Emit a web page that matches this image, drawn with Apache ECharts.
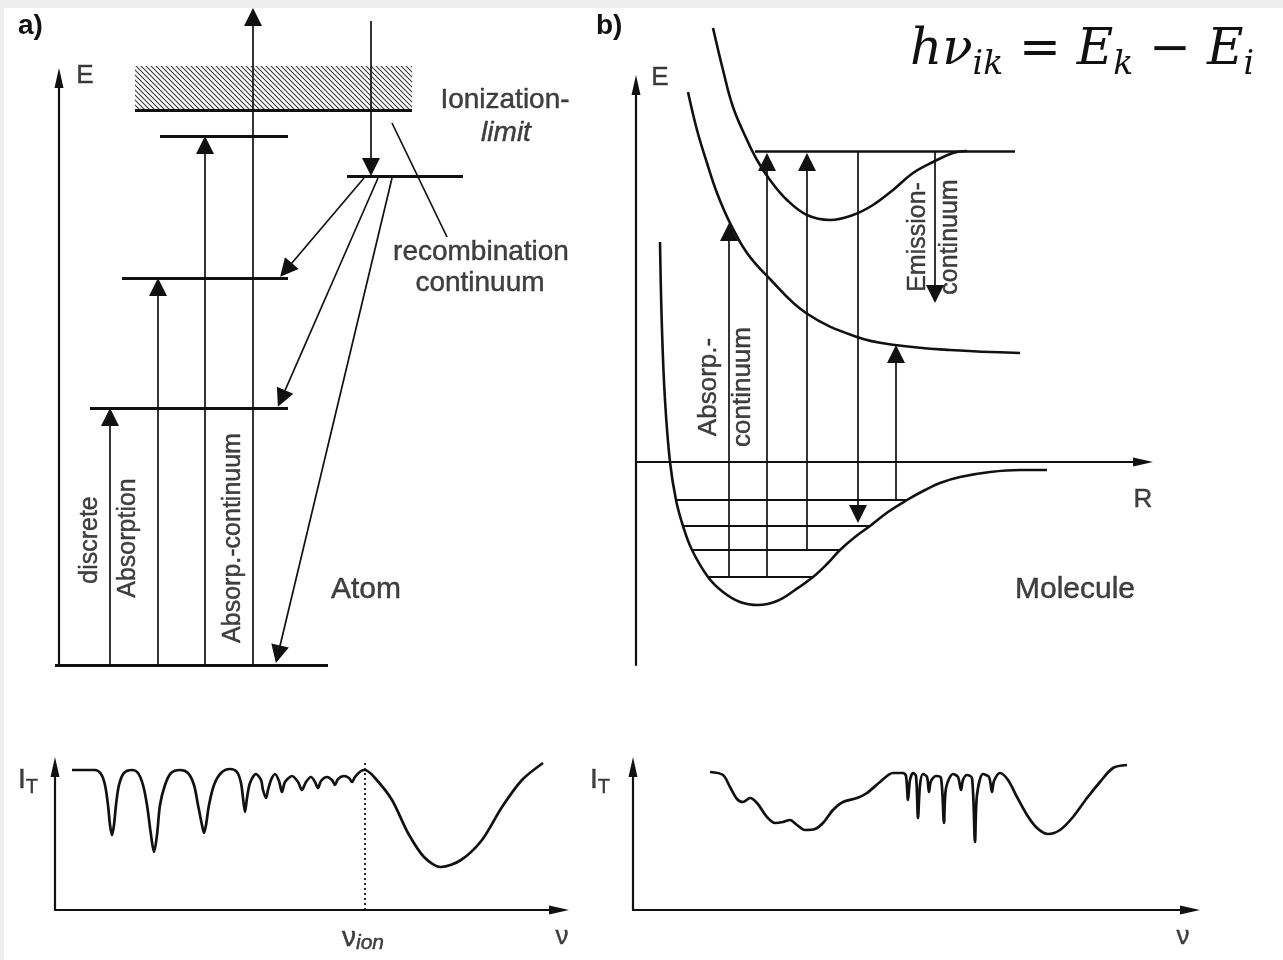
<!DOCTYPE html>
<html><head><meta charset="utf-8">
<script src="https://cdn.jsdelivr.net/npm/echarts@6/dist/echarts.min.js"></script>
<style>
html,body{margin:0;padding:0;background:#efeeec;overflow:hidden;}
#paper{position:absolute;left:4px;top:8px;width:1279px;height:952px;background:#fff;}
#chart{position:absolute;left:0;top:0;width:1283px;height:960px;}
</style></head>
<body><div id="paper"></div><div id="chart"></div>
<script>
// ================= DATA =================
// ---- Panel a) Atom: x = horizontal position u, y = energy E ----
const atomLevels = [      // [E, uStart, uEnd]
  [0, -0.8, 53.8],        // ground state
  [51.4, 6.2, 45.8],
  [77.4, 12.6, 45.8],
  [105.8, 20.2, 45.8],
  [97.8, 57.6, 80.8],     // level populated by recombination
  [111, 15.2, 70.6]       // ionization limit
];
const ionContinuumBand = [[15.2, 70.6, 111, 119.8]]; // [u0, u1, E0, E1]
const atomUpArrows = [    // [u, Efrom, Eto]
  [10.2, 0, 49.6],
  [19.8, 0, 75.6],
  [29.2, 0, 104.0],
  [38.8, 0, 129.6]
];
const atomDownArrows = [[62.4, 128.8, 99.6]];
const recombArrows = [    // [u0, E0, u1, E1]
  [61.0, 97.4, 45.4, 79.0],
  [63.8, 97.4, 44.5, 53.3],
  [66.6, 97.4, 43.8, 2.15]
];
const atomPointer = [[66.6, 108.4, 77.6, 85.6]];
const atomTexts = [       // [text, u, E, style]
  ['E', 5.2, 117.8, 'axisName'],
  ['Ionization-', 89.2, 113, 'big'],
  ['limit', 89.4, 106.4, 'bigItalic'],
  ['recombination', 84.4, 82.6, 'big'],
  ['continuum', 84.2, 76.4, 'big'],
  ['Atom', 61.4, 15, 'name'],
  ['discrete', 6.2, 25, 'vert'],
  ['Absorption', 13.8, 25.4, 'vert'],
  ['Absorp.-continuum', 34.8, 25.4, 'vert']
];

// ---- Panel b) Molecule: x = internuclear distance R, y = energy E ----
const groundCurve = [
  [4.8,44],[5.2,26.4],[5.8,12.4],[6.8,0],[8,-7.6],[9.4,-12.8],[11.2,-17.6],[14.4,-23],
  [17.4,-26],[20.8,-28],[24.4,-28.6],[28.2,-27.8],[31.8,-25.6],[35.4,-23],[38.2,-20.4],
  [40.8,-17.6],[43.8,-15],[46.8,-12.8],[50.4,-10],[54.2,-7.6],[57.8,-5.6],[60.8,-4.2],
  [64.8,-3],[70.8,-2],[76.8,-1.6],[82.2,-1.6]
];
const repulsiveCurve = [
  [10.4,74],[12.2,66.4],[14.2,59.8],[16.2,53.8],[18.8,47.8],[22.2,41.8],[26.4,37],
  [34,29.8],[44.2,25],[51.8,23.4],[62.8,22.4],[76.8,21.8]
];
const boundExcitedCurve = [
  [15.4,86.8],[17.4,78.4],[19.4,71],[22.2,64.4],[24.2,60.4],[26.8,56.4],[30.2,52.4],
  [34.2,49.4],[38.8,48.4],[43.4,49.4],[47.4,51.4],[51.4,54.4],[55.4,57.8],[59.4,60],
  [63.4,61.8],[66.2,62.2]
];
const dissociationLimit = [[62.2, 23.8, 75.8]];   // [E, R0, R1]
const vibLevels = [       // [E, R0, R1]
  [-7.6, 8.2, 54.2],
  [-12.8, 9.4, 46.8],
  [-17.6, 11.2, 40.8],
  [-23, 14.4, 35.4]
];
const molArrows = [       // [R, Efrom, Eto]
  [18.6, -23, 46.0],
  [26.2, -23, 60.0],
  [34.2, -17.6, 60.0],
  [44.4, 62.2, -10.4],
  [52.0, -7.6, 21.6],
  [59.8, 62.2, 33.6]
];
const molTexts = [
  ['E', 4.8, 76.8, 'axisName'],
  ['R', 101.4, -7.6, 'axisName'],
  ['Molecule', 87.8, -25.6, 'name'],
  ['Absorp.-\ncontinuum', 18, 15, 'vert2'],
  ['Emission-\ncontinuum', 59.6, 45, 'vert2s']
];

// ---- Bottom left: atomic transmission spectrum I_T(ν) ----
const atomSpectrum = [
  [3.4,28],[8,28],[9.2,27.2],[10,25],[10.6,21],[11,17],[11.4,15],[11.8,17],[12.2,21],[12.8,25],
  [13.8,27.4],[15.4,28],[16.6,27.4],[17.6,25],[18.4,21],[19.2,15],[19.8,11.6],[20.4,15],[21,21],
  [22,25],[23.2,27.4],[25,28],[26.6,27.4],[27.8,25],[28.6,21],[29.4,17],[29.8,15.4],[30.2,17],
  [30.8,21],[31.8,25],[33.2,27.4],[35,28.2],[36.4,27.6],[37.2,25.4],[37.6,22.4],[38,19.6],
  [38.4,22.4],[39,25.4],[40.2,27.2],[41.2,26],[41.6,24],[42.2,22.4],[42.6,24],[43.2,26],
  [44,27.2],[44.8,25.8],[45.4,23.6],[46,25.6],[47.4,26.8],[48.6,25.6],[49.4,24],[50.2,25.6],
  [51.2,26.6],[52,25.6],[52.6,24.4],[53.2,25.8],[54.4,26.6],[55.4,26],[56,25],[56.6,26.2],
  [57.8,26.8],[58.8,26.4],[59.4,25.6],[60,26.6],[61.2,27.8],[62,28],[64,26.4],[67.4,22],
  [70.6,15.4],[73.8,10.6],[77.2,8.6],[81.2,10],[85.4,14],[89.4,20.6],[93.4,26],[97.6,29.4]
];
const ionizationFreq = [[62, 0, 30]];   // [ν, I0, I1]
const atomSpecTexts = [
  ['{m|I}{s|T}', -5.4, 26, 'rich'],
  ['{n|ν}{si|ion}', 61.6, -5.6, 'rich'],
  ['ν', 101.4, -5.4, 'axisName']
];

// ---- Bottom right: molecular transmission spectrum I_T(ν) ----
const molSpectrum = [
  [15.4,27.6],[18,27],[19.4,24.6],[20.8,22.2],[22,21.6],[23.4,22.4],[24.8,21.4],[26.8,18.6],
  [28.4,17.4],[30,17.6],[31.4,18],[32.8,17],[34.4,16],[36.4,16.2],[38,17.4],[40,20],[42,21.6],
  [44.8,22.4],[46.8,23.4],[49.4,25.6],[52,27.4],[54,27.4],
  [54.6,26.8],[55,22],[55.4,26],[56,27.4],
  [56.6,26.8],[57,18.4],[57.4,25],[58,27.2],
  [58.8,26.6],[59.2,23.6],[59.6,25.8],[60.6,26.8],
  [61.6,26.4],[62.2,17.4],[62.6,24.4],[64,27.2],
  [65,26.6],[65.6,24],[66,26],[66.8,27],
  [67.8,26.4],[68.4,13.6],[68.8,23],[70,27.2],
  [71.2,26.6],[71.8,23.6],[72.2,25.8],[73.4,27.4],
  [75,26],[76.8,22.6],[78.8,19],[80.8,16.4],[83,15.2],[85.4,16],[88,18.6],[90.8,22.4],
  [93.4,25.6],[96,28.4],[98.8,29]
];
const molSpecTexts = [
  ['{m|I}{s|T}', -6.6, 26, 'rich'],
  ['ν', 110, -5.4, 'axisName']
];

// ================= STYLE =================
const INK = '#111111';
const SANS = 'Liberation Sans, Arial, Helvetica, sans-serif';
const TB = {color: INK, textBorderColor: INK, textBorderWidth: 0.45, fontWeight: 'normal'};
const textStyles = {
  axisName: {fontSize: 26},
  big: {fontSize: 28},
  bigItalic: {fontSize: 28, fontStyle: 'italic'},
  name: {fontSize: 30},
  vert: {fontSize: 25, rotate: 90},
  vert2: {fontSize: 26, rotate: 90, lineHeight: 34},
  vert2s: {fontSize: 25, rotate: 90, lineHeight: 32},
  rich: {}
};
const richDefs = {
  m: Object.assign({fontSize: 28, lineHeight: 34, fontFamily: SANS}, TB),
  s: Object.assign({fontSize: 20, lineHeight: 16, verticalAlign: 'bottom', fontFamily: SANS}, TB),
  n: Object.assign({fontSize: 28, lineHeight: 32, fontFamily: SANS}, TB),
  si: Object.assign({fontSize: 21, lineHeight: 14, verticalAlign: 'bottom', fontStyle: 'italic', fontFamily: SANS}, TB)
};

function makeHatch() {
  const c = document.createElement('canvas');
  c.width = 5; c.height = 5;
  const g = c.getContext('2d');
  g.strokeStyle = '#3a3a3a'; g.lineWidth = 1.1;
  g.beginPath();
  g.moveTo(-1, -1); g.lineTo(6, 6);
  g.moveTo(4, -1); g.lineTo(6, 1);
  g.moveTo(-1, 4); g.lineTo(1, 6);
  g.stroke();
  return c;
}
const hatch = makeHatch();

const hSeg = arr => arr.map(([y, x0, x1]) => ({coords: [[x0, y], [x1, y]]}));
const vSeg = arr => arr.map(([x, y0, y1]) => ({coords: [[x, y0], [x, y1]]}));
const seg = arr => arr.map(([x0, y0, x1, y1]) => ({coords: [[x0, y0], [x1, y1]]}));
const texts = arr => arr.map(([t, x, y, k]) => ({value: [x, y], t: t,
  label: Object.assign({}, TB, textStyles[k])}));

function linesS(gi, data, width, arrow, extra) {
  return Object.assign({
    type: 'lines', coordinateSystem: 'cartesian2d', xAxisIndex: gi, yAxisIndex: gi,
    clip: false, silent: true, data: data,
    symbol: arrow ? ['none', 'triangle'] : ['none', 'none'], symbolSize: [8, 18],
    lineStyle: {color: INK, width: width, opacity: 1, curveness: 0},
    itemStyle: {color: INK}
  }, extra || {});
}
function curveS(gi, data, width, smooth) {
  return {
    type: 'line', xAxisIndex: gi, yAxisIndex: gi, data: data, showSymbol: false,
    smooth: smooth, clip: false, silent: true,
    lineStyle: {color: INK, width: width}
  };
}
function textS(gi, data) {
  return {
    type: 'scatter', xAxisIndex: gi, yAxisIndex: gi, data: data, symbolSize: 1,
    itemStyle: {color: 'rgba(0,0,0,0)'}, clip: false, silent: true, z: 10,
    label: Object.assign({show: true, position: 'inside', fontFamily: SANS,
      formatter: p => p.data.t, rich: richDefs}, TB)
  };
}
const axisArrowLine = {
  show: true, onZero: true, symbol: ['none', 'triangle'], symbolSize: [9, 20],
  lineStyle: {color: INK, width: 2.2}
};
function axis(min, max, showLine) {
  return {
    type: 'value', min: min, max: max, show: true,
    axisLine: showLine ? axisArrowLine : {show: false},
    axisTick: {show: false}, axisLabel: {show: false}, splitLine: {show: false}
  };
}
const serifIt = {fontFamily: 'DejaVu Serif', fontStyle: 'italic', fontWeight: 'normal', color: INK};

const option = {
  animation: false,
  backgroundColor: 'transparent',
  title: [
    {text: 'a)', left: 18, top: 12, padding: 0,
      textStyle: {fontFamily: SANS, fontWeight: 'bold', fontSize: 28, color: INK}},
    {text: 'b)', left: 596, top: 12, padding: 0,
      textStyle: {fontFamily: SANS, fontWeight: 'bold', fontSize: 28, color: INK}},
    {text: '{it|hν}{sb|ik}{op| = }{it|E}{sb|k}{op| − }{it|E}{sb|i}', left: 910, top: 20, padding: 0,
      textStyle: {fontWeight: 'normal', rich: {
        it: Object.assign({fontSize: 50, lineHeight: 62}, serifIt),
        sb: Object.assign({fontSize: 33, lineHeight: 30, verticalAlign: 'bottom'}, serifIt),
        op: {fontFamily: 'DejaVu Serif', fontWeight: 'normal', fontSize: 50, lineHeight: 62, color: INK}
      }}}
  ],
  grid: [
    {left: 59, top: 78, width: 540, height: 587},     // atom
    {left: 636, top: 85, width: 507, height: 580},    // molecule
    {left: 55, top: 767, width: 504, height: 143},    // atom spectrum
    {left: 633, top: 767, width: 557, height: 143}    // molecule spectrum
  ],
  xAxis: [
    Object.assign(axis(0, 108, false), {gridIndex: 0, show: false}),
    Object.assign(axis(0, 101.4, true), {gridIndex: 1}),
    Object.assign(axis(0, 100.8, true), {gridIndex: 2}),
    Object.assign(axis(0, 111.4, true), {gridIndex: 3})
  ],
  yAxis: [
    Object.assign(axis(0, 117.4, true), {gridIndex: 0}),
    Object.assign(axis(-40.6, 75.4, true), {gridIndex: 1}),
    Object.assign(axis(0, 28.6, true), {gridIndex: 2}),
    Object.assign(axis(0, 28.6, true), {gridIndex: 3})
  ],
  series: [
    // ---- atom ----
    {type: 'custom', xAxisIndex: 0, yAxisIndex: 0, clip: false, silent: true, data: ionContinuumBand,
      renderItem: (params, api) => {
        const a = api.coord([api.value(0), api.value(3)]);
        const b = api.coord([api.value(1), api.value(2)]);
        return {type: 'rect', shape: {x: a[0], y: a[1], width: b[0] - a[0], height: b[1] - a[1]},
          style: {fill: {image: hatch, repeat: 'repeat'}}};
      }},
    linesS(0, hSeg(atomLevels), 3),
    linesS(0, vSeg(atomUpArrows), 1.7, true),
    linesS(0, vSeg(atomDownArrows), 1.7, true),
    linesS(0, seg(recombArrows), 1.7, true),
    linesS(0, seg(atomPointer), 1.7, false),
    textS(0, texts(atomTexts)),
    // ---- molecule ----
    curveS(1, groundCurve, 2.6, 0.4),
    curveS(1, repulsiveCurve, 2.6, 0.4),
    curveS(1, boundExcitedCurve, 2.6, 0.4),
    linesS(1, hSeg(dissociationLimit), 2.6),
    linesS(1, hSeg(vibLevels), 1.9),
    linesS(1, vSeg(molArrows), 1.7, true),
    textS(1, texts(molTexts)),
    // ---- atom spectrum ----
    curveS(2, atomSpectrum, 2.7, 0.3),
    linesS(2, vSeg(ionizationFreq), 1.8, false, {lineStyle: {color: INK, width: 1.8, type: [2, 3], opacity: 1}}),
    textS(2, texts(atomSpecTexts)),
    // ---- molecule spectrum ----
    curveS(3, molSpectrum, 2.7, 0.3),
    textS(3, texts(molSpecTexts))
  ]
};

const chart = echarts.init(document.getElementById('chart'), null, {renderer: 'canvas'});
chart.setOption(option);
</script>
</body></html>
